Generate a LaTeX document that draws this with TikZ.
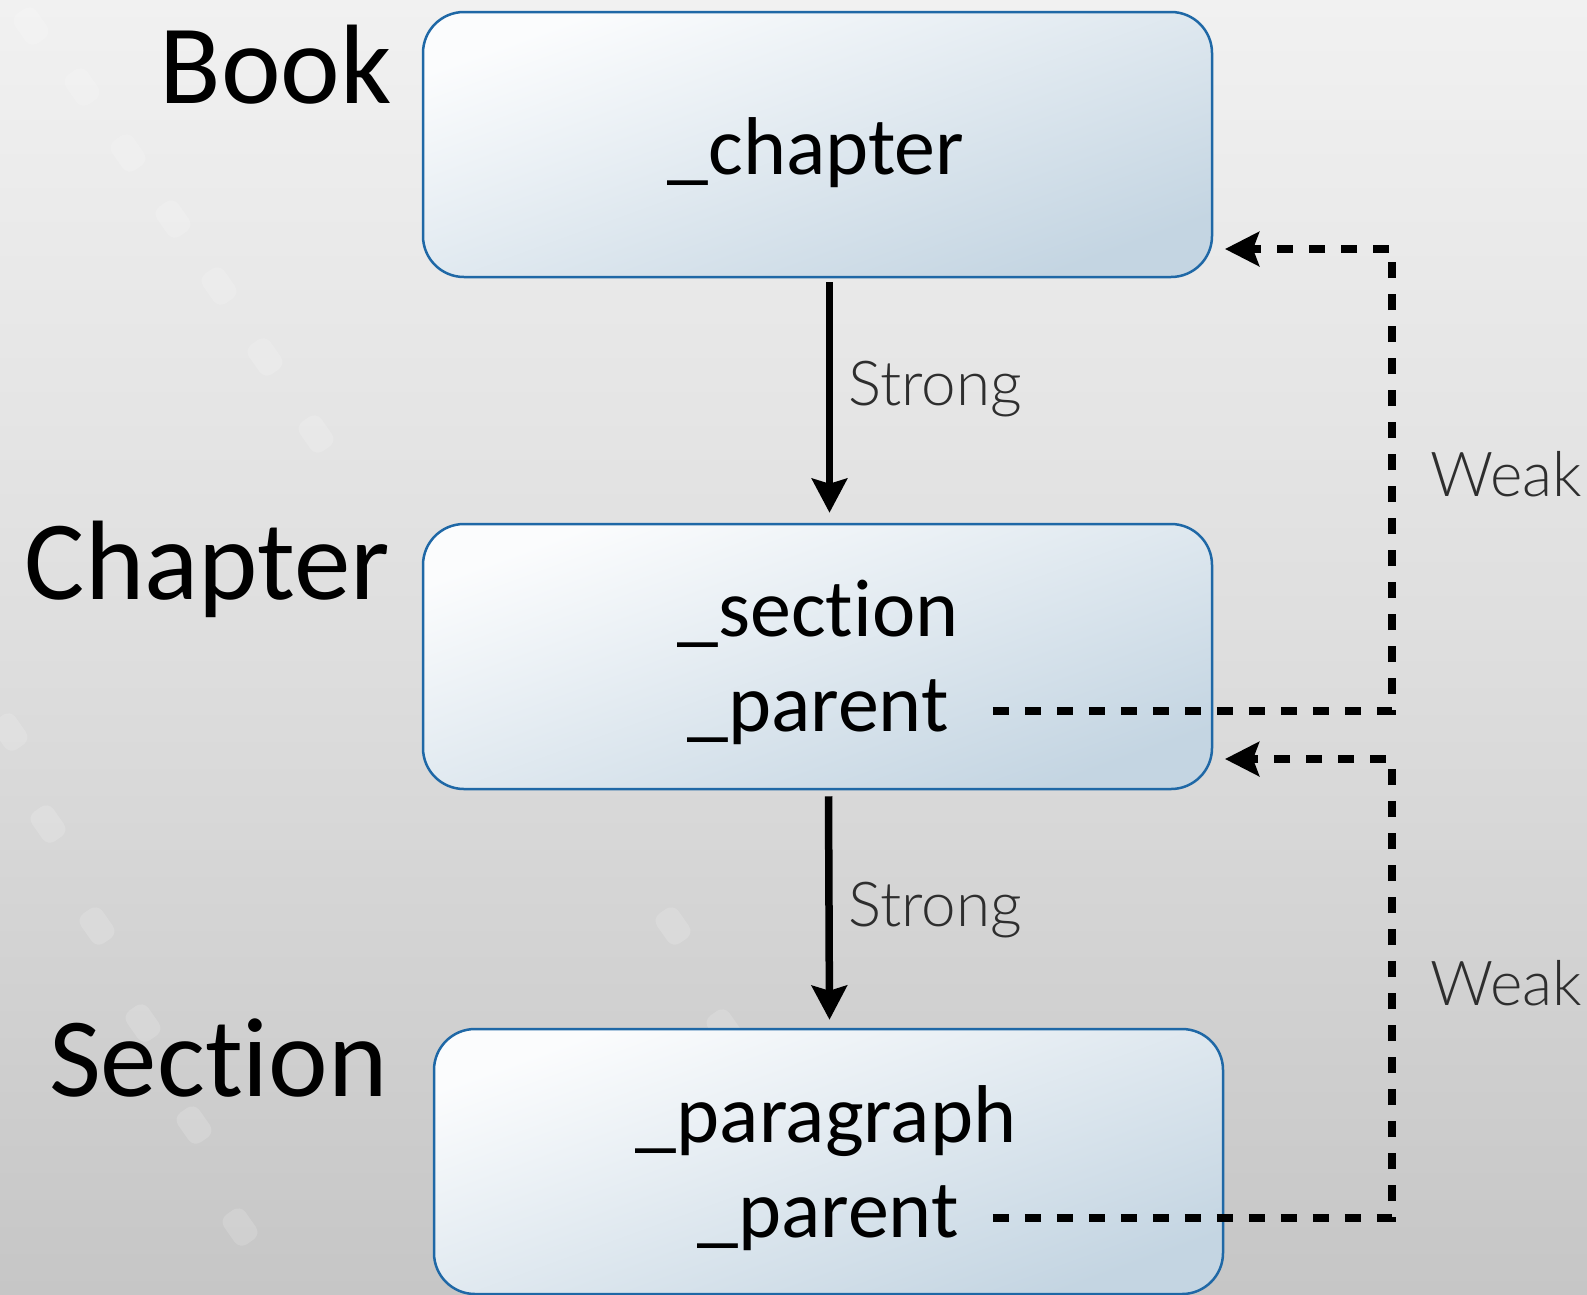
\documentclass[tikz,border=0pt]{standalone}
\usepackage{fontspec}
\setmainfont{Carlito}[Ligatures=NoCommon]
\newfontfamily\thinfont{Lato Light}
\usetikzlibrary{arrows.meta}

\definecolor{bgtop}{HTML}{F1F1F1}
\definecolor{bgmid}{HTML}{DEDEDE}
\definecolor{bgbot}{HTML}{C6C6C6}
\definecolor{boxedge}{HTML}{1F68A6}
\definecolor{boxlight}{HTML}{FBFCFD}
\definecolor{boxdark}{HTML}{C4D5E2}
\definecolor{linkgray}{HTML}{2E2E2E}

\tikzset{
  objbox/.style={draw=boxedge, line width=2.5pt, rounded corners=41pt,
    minimum width=789pt, minimum height=265pt, inner sep=0pt,
    top color=boxlight, bottom color=boxdark, shading angle=20},
  tierlabel/.style={inner sep=0pt, font=\fontsize{113}{120}\selectfont},
  fieldtext/.style={inner sep=0pt, font=\fontsize{82}{90}\selectfont},
  linklabel/.style={inner sep=0pt, text=linkgray, font=\thinfont\fontsize{62}{70}\selectfont},
  strong/.style={line width=7.5pt, -{Stealth[length=34pt,width=35pt,inset=5pt]}},
  weak/.style={line width=8pt, dash pattern=on 16pt off 16pt,
    -{Stealth[length=34pt,width=34pt,inset=6pt]}},
  filmhole/.style={fill=white, opacity=0.16, rounded corners=9pt}
}

\begin{document}
\begin{tikzpicture}[x=1pt,y=-1pt]
\useasboundingbox (0,0) rectangle (1587,1294);
% backdrop
\shade[top color=bgtop, bottom color=bgbot, middle color=bgmid] (0,0) rectangle (1587,1294);
\foreach \x/\y in {31/26,82/87,128/153,173/219,219/286,265/357,316/434,
                   10/732,48/824,97/926,143/1023,194/1125,240/1227,296/1339,
                   673/926,724/1028}
  \fill[filmhole, rotate around={-55:(\x,\y)}] (\x-18,\y-13) rectangle (\x+18,\y+13);

% Boxes
\node[objbox] (bookbox) at (817.5,144.5) {};
\node[objbox] (chapbox) at (817.5,656.5) {};
\node[objbox] (secbox) at (828.5,1161.5) {};

\node[fieldtext, anchor=base] (bkchapter) at (816,174) {\_chapter};
\node[fieldtext, anchor=base] (chsection) at (818,636) {\_section};
\node[fieldtext, anchor=base] (chparent) at (818,731) {\_parent};
\node[fieldtext, anchor=base] (separagraph) at (826,1142) {\_paragraph};
\node[fieldtext, anchor=base] (separent) at (828,1237) {\_parent};

% Class names
\node[tierlabel, anchor=base east] (booklbl) at (392,103) {Book};
\node[tierlabel, anchor=base east] (chaplbl) at (390,599) {Chapter};
\node[tierlabel, anchor=base east] (seclbl) at (388,1096) {Section};

% Strong references
\draw[strong] ([xshift=12pt,yshift=-4pt]bookbox.south) -- ([xshift=12pt,yshift=10pt]chapbox.north);
\draw[strong] ([xshift=11pt,yshift=-6pt]chapbox.south) -- ([xshift=1pt,yshift=8pt]secbox.north);
\node[linklabel, anchor=base west] (strong1) at (848,405) {Strong};
\node[linklabel, anchor=base west] (strong2) at (848,926) {Strong};

% Weak back references
\coordinate (weakcol) at (1392,0);
\coordinate (bookin) at (1225,249);
\coordinate (chapin) at (1225,759);
\draw[weak] ([xshift=44pt,yshift=20pt]chparent.base east) -| (weakcol |- bookin) -- (bookin);
\draw[weak] ([xshift=34pt,yshift=19pt]separent.base east) -| (weakcol |- chapin) -- (chapin);
\node[linklabel, anchor=base west] (weak1) at (1430,496) {Weak};
\node[linklabel, anchor=base west] (weak2) at (1430,1005) {Weak};
\end{tikzpicture}
\end{document}
